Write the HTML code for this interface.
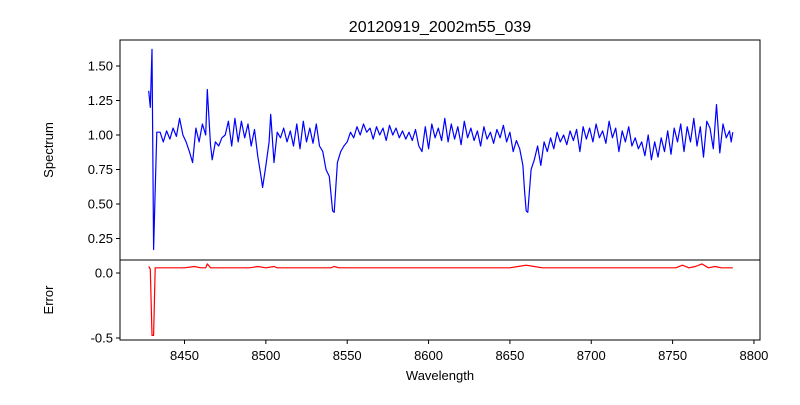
<!DOCTYPE html>
<html><head><meta charset="utf-8"><style>
body{margin:0;background:#fff;}
svg{font-family:"Liberation Sans","DejaVu Sans",sans-serif;}
</style></head><body>
<svg id="c" width="800" height="400" xmlns="http://www.w3.org/2000/svg">
<rect width="800" height="400" fill="#fff"/>
<text x="440" y="32" font-size="16" text-anchor="middle">20120919_2002m55_039</text>
<g id="topg"></g>
<g id="botg"></g>
<text transform="translate(53,150) rotate(-90)" font-size="13" text-anchor="middle">Spectrum</text>
<text transform="translate(53,300) rotate(-90)" font-size="13" text-anchor="middle">Error</text>
<text x="440" y="380" font-size="13" text-anchor="middle">Wavelength</text>
</svg>
<script>
const wave=[8428,8429,8430,8431,8432,8433,8435,8437,8439,8441,8443,8445,8447,8449,8451,8453,8455,8457,8459,8461,8463,8464,8466,8467,8469,8471,8473,8475,8477,8479,8481,8483,8485,8487,8489,8491,8493,8495,8497,8498,8500,8502,8503,8505,8507,8509,8511,8513,8515,8517,8519,8521,8523,8525,8527,8529,8531,8533,8535,8537,8539,8541,8542,8544,8546,8548,8550,8552,8554,8556,8558,8560,8562,8564,8566,8568,8570,8572,8574,8576,8578,8580,8582,8584,8586,8588,8590,8592,8594,8596,8598,8600,8602,8604,8606,8608,8610,8612,8614,8616,8618,8620,8622,8624,8626,8628,8630,8632,8634,8636,8638,8640,8642,8644,8646,8648,8650,8652,8654,8656,8658,8659,8660,8661,8663,8665,8667,8669,8671,8673,8675,8677,8679,8681,8683,8685,8687,8689,8691,8693,8695,8697,8699,8701,8703,8705,8707,8709,8711,8713,8715,8717,8719,8721,8723,8725,8727,8729,8731,8733,8735,8737,8739,8741,8743,8745,8747,8749,8751,8753,8755,8757,8759,8761,8763,8765,8767,8769,8771,8773,8775,8777,8779,8781,8783,8785,8786,8787];
const flux=[1.32,1.20,1.62,0.17,0.60,1.02,1.02,0.95,1.03,0.97,1.05,0.99,1.12,1.00,0.95,0.88,0.80,1.05,0.95,1.08,1.00,1.33,0.93,0.82,0.95,0.92,0.98,1.00,1.10,0.92,1.12,0.95,1.10,0.98,1.08,0.92,1.04,0.85,0.70,0.62,0.78,0.95,1.15,0.80,1.02,0.98,1.05,0.95,1.03,0.92,1.08,0.90,1.10,0.95,1.05,0.94,1.08,0.92,0.88,0.75,0.70,0.45,0.44,0.80,0.88,0.92,0.95,1.02,0.98,1.06,1.00,1.08,1.02,1.05,0.97,1.06,1.00,1.05,0.96,1.07,1.00,1.05,0.98,1.03,0.97,1.02,0.96,1.04,0.92,0.88,1.06,0.90,1.08,0.98,1.05,0.96,1.12,0.95,1.08,0.97,1.06,0.93,1.10,0.98,1.05,0.96,1.03,0.92,1.06,0.97,1.02,0.94,1.04,0.98,1.07,0.95,1.02,0.88,0.96,0.90,0.78,0.60,0.45,0.44,0.75,0.82,0.92,0.78,0.95,0.88,0.98,0.90,1.02,0.95,1.00,0.93,1.03,0.96,1.04,0.88,1.06,0.97,1.05,0.95,1.08,0.98,1.03,0.94,1.10,0.98,1.05,0.88,1.03,0.95,1.06,0.92,0.98,0.90,0.95,0.85,1.00,0.82,0.95,0.84,0.98,0.88,1.03,0.86,1.05,0.95,1.08,0.88,1.06,0.95,1.12,0.92,1.06,0.84,1.10,1.05,0.90,1.22,0.87,1.08,0.98,1.03,0.95,1.02];
const errWave=[8428,8429,8430,8431,8432,8440,8450,8456,8460,8463,8464,8466,8470,8490,8495,8500,8505,8507,8510,8530,8540,8542,8545,8560,8600,8640,8650,8655,8660,8665,8670,8700,8740,8752,8756,8760,8764,8768,8772,8776,8780,8787];
const errVal=[0.05,0.03,-0.48,-0.48,0.04,0.04,0.04,0.05,0.04,0.04,0.07,0.04,0.04,0.04,0.05,0.04,0.05,0.04,0.04,0.04,0.04,0.05,0.04,0.04,0.04,0.04,0.04,0.05,0.06,0.05,0.04,0.04,0.04,0.04,0.06,0.04,0.05,0.07,0.04,0.05,0.04,0.04];
const xTicks=[8450,8500,8550,8600,8650,8700,8750,8800];
const topTicks=[0.25,0.50,0.75,1.00,1.25,1.50];
const botTicks=[0.0,-0.5];
const NS='http://www.w3.org/2000/svg';
const L=120,R=760,T1=40,B1=260,T2=260,B2=340;
const X=w=>184.5+(w-8450)*1.627;
const Y1=v=>135-(v-1)*138;
const Y2=v=>273-v*130;
function mk(tag,at,parent){const e=document.createElementNS(NS,tag);for(const k in at)e.setAttribute(k,at[k]);parent.appendChild(e);return e;}
const topG=document.getElementById('topg'),botG=document.getElementById('botg'),svgEl=document.getElementById('c');
let p=wave.map((w,i)=>(i?'L':'M')+X(w).toFixed(1)+','+Y1(flux[i]).toFixed(1)).join('');
const l1=mk('path',{d:p,fill:'none',stroke:'#0000ff','stroke-width':1.2,'stroke-linejoin':'round'},topG);


p=errWave.map((w,i)=>(i?'L':'M')+X(w).toFixed(1)+','+Y2(errVal[i]).toFixed(1)).join('');
const l2=mk('path',{d:p,fill:'none',stroke:'#ff0000','stroke-width':1.2,'stroke-linejoin':'round'},botG);


const f1=mk('rect',{x:L,y:T1,width:R-L,height:B1-T1,fill:'none',stroke:'#000','stroke-width':1},topG);


const f2=mk('rect',{x:L,y:T2,width:R-L,height:B2-T2,fill:'none',stroke:'#000','stroke-width':1},botG);


topTicks.forEach(v=>{const y=Y1(v);mk('line',{x1:L-4,x2:L,y1:y,y2:y,stroke:'#000'},topG);
const t=mk('text',{x:L-7,y:y+4.5,'font-size':13,'text-anchor':'end'},topG);t.textContent=v.toFixed(2);

});
botTicks.forEach(v=>{const y=Y2(v);mk('line',{x1:L-4,x2:L,y1:y,y2:y,stroke:'#000'},botG);
const t=mk('text',{x:L-7,y:y+4.5,'font-size':13,'text-anchor':'end'},botG);t.textContent=v.toFixed(1);

});
xTicks.forEach(v=>{const x=X(v);mk('line',{x1:x,x2:x,y1:B2,y2:B2+4,stroke:'#000'},svgEl);
const t=mk('text',{x:x,y:B2+20,'font-size':13,'text-anchor':'middle'},svgEl);t.textContent=v;

});
</script>
</body></html>
